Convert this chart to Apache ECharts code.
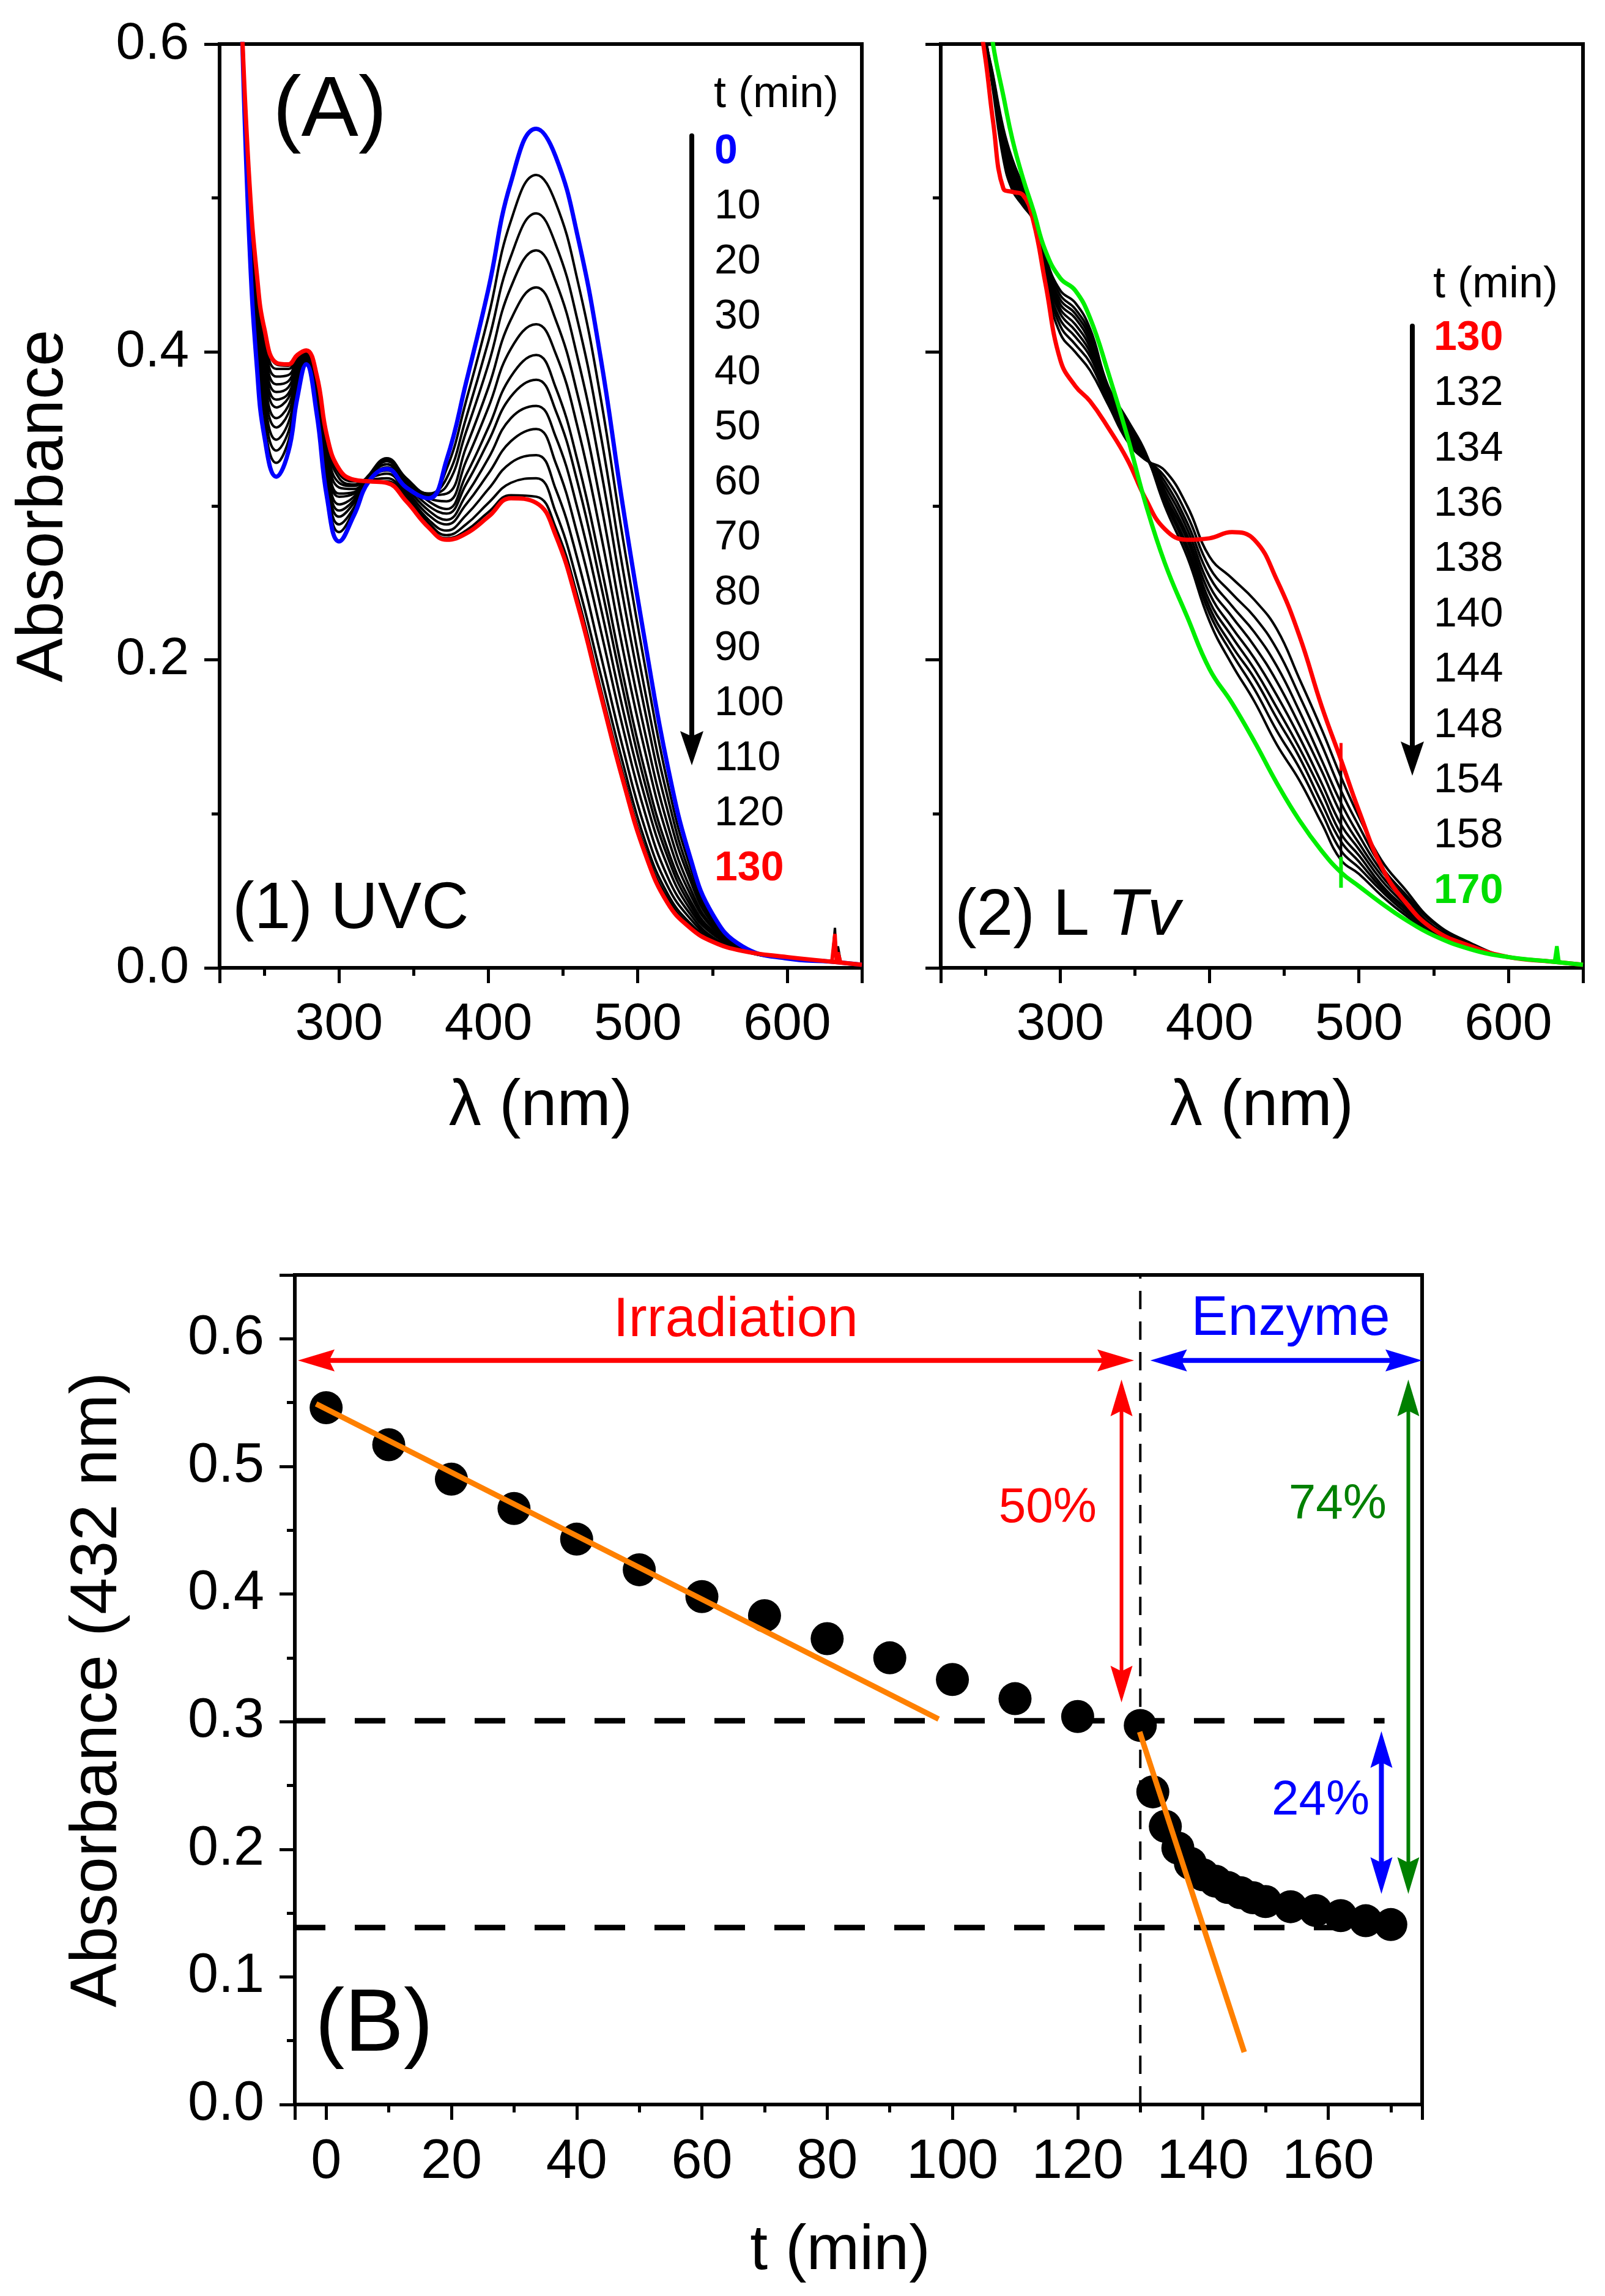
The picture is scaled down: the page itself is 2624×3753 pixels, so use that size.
<!DOCTYPE html>
<html>
<head>
<meta charset="utf-8">
<script src="https://cdn.jsdelivr.net/npm/echarts/dist/echarts.min.js"></script>
<style>
html, body { margin: 0; padding: 0; background: #fff; }
#main { width: 2624px; height: 3753px; }
</style>
</head>
<body>
<div id="main"></div>
<script>
var FONT = '"Liberation Sans", Arial, Helvetica, sans-serif'

// ---- panel (A)(1): spectra under UVC irradiation ----
var uvcWave = [235, 240, 245, 250, 258, 266, 272, 278, 285, 292, 300, 310, 320, 332, 345, 360, 372, 385, 400, 415, 432, 445, 460, 475, 490, 505, 520, 535, 550, 570, 600, 630, 650]
var uvcTimes = [0, 10, 20, 30, 40, 50, 60, 70, 80, 90, 100, 110, 120, 130]
var uvc0 = [0.61, 0.47, 0.39, 0.345, 0.319, 0.335, 0.37, 0.392, 0.36, 0.305, 0.277, 0.294, 0.316, 0.324, 0.312, 0.305, 0.33, 0.38, 0.441, 0.51, 0.545, 0.527, 0.474, 0.397, 0.30, 0.211, 0.131, 0.072, 0.035, 0.014, 0.006, 0.004, 0.002]
var uvc10 = [0.61, 0.475, 0.397, 0.353, 0.328, 0.342, 0.373, 0.393, 0.363, 0.310, 0.283, 0.297, 0.318, 0.327, 0.315, 0.307, 0.324, 0.368, 0.423, 0.485, 0.515, 0.497, 0.445, 0.371, 0.279, 0.195, 0.120, 0.066, 0.033, 0.014, 0.006, 0.004, 0.002]
var uvc20 = [0.61, 0.479, 0.404, 0.361, 0.336, 0.348, 0.376, 0.394, 0.366, 0.314, 0.288, 0.299, 0.319, 0.329, 0.317, 0.308, 0.318, 0.357, 0.407, 0.462, 0.490, 0.470, 0.419, 0.347, 0.259, 0.179, 0.111, 0.061, 0.031, 0.013, 0.006, 0.004, 0.002]
var uvc30 = [0.61, 0.483, 0.410, 0.368, 0.343, 0.354, 0.379, 0.395, 0.368, 0.318, 0.293, 0.302, 0.319, 0.330, 0.318, 0.308, 0.313, 0.348, 0.392, 0.442, 0.466, 0.446, 0.395, 0.325, 0.241, 0.166, 0.102, 0.057, 0.029, 0.013, 0.006, 0.004, 0.002]
var uvc40 = [0.61, 0.487, 0.416, 0.375, 0.351, 0.360, 0.382, 0.396, 0.371, 0.322, 0.297, 0.304, 0.320, 0.331, 0.318, 0.307, 0.308, 0.338, 0.377, 0.421, 0.442, 0.421, 0.371, 0.303, 0.223, 0.152, 0.093, 0.052, 0.027, 0.013, 0.006, 0.004, 0.002]
var uvc50 = [0.61, 0.491, 0.421, 0.381, 0.357, 0.365, 0.385, 0.397, 0.373, 0.326, 0.301, 0.306, 0.320, 0.330, 0.317, 0.305, 0.303, 0.329, 0.364, 0.402, 0.418, 0.399, 0.350, 0.283, 0.207, 0.140, 0.085, 0.048, 0.026, 0.012, 0.006, 0.004, 0.002]
var uvc60 = [0.61, 0.494, 0.427, 0.388, 0.364, 0.370, 0.387, 0.397, 0.375, 0.329, 0.306, 0.308, 0.320, 0.329, 0.316, 0.303, 0.298, 0.320, 0.351, 0.384, 0.398, 0.377, 0.328, 0.263, 0.191, 0.127, 0.077, 0.044, 0.024, 0.012, 0.006, 0.004, 0.002]
var uvc70 = [0.61, 0.497, 0.430, 0.392, 0.369, 0.373, 0.389, 0.398, 0.377, 0.332, 0.308, 0.309, 0.320, 0.327, 0.314, 0.300, 0.295, 0.314, 0.342, 0.371, 0.382, 0.362, 0.314, 0.250, 0.181, 0.119, 0.072, 0.041, 0.023, 0.012, 0.006, 0.004, 0.002]
var uvc80 = [0.61, 0.500, 0.434, 0.397, 0.374, 0.377, 0.391, 0.399, 0.379, 0.335, 0.312, 0.311, 0.319, 0.325, 0.312, 0.297, 0.291, 0.307, 0.331, 0.357, 0.365, 0.345, 0.297, 0.235, 0.168, 0.110, 0.066, 0.038, 0.022, 0.012, 0.006, 0.004, 0.002]
var uvc90 = [0.61, 0.502, 0.439, 0.402, 0.379, 0.381, 0.393, 0.399, 0.380, 0.337, 0.315, 0.313, 0.319, 0.323, 0.310, 0.294, 0.288, 0.301, 0.321, 0.342, 0.350, 0.328, 0.280, 0.220, 0.156, 0.100, 0.059, 0.035, 0.020, 0.011, 0.006, 0.004, 0.002]
var uvc100 = [0.61, 0.505, 0.443, 0.407, 0.384, 0.385, 0.395, 0.400, 0.382, 0.340, 0.318, 0.314, 0.318, 0.321, 0.308, 0.291, 0.284, 0.294, 0.311, 0.328, 0.333, 0.311, 0.264, 0.204, 0.143, 0.090, 0.053, 0.032, 0.019, 0.011, 0.006, 0.004, 0.002]
var uvc110 = [0.61, 0.507, 0.446, 0.411, 0.389, 0.389, 0.396, 0.400, 0.384, 0.343, 0.321, 0.316, 0.317, 0.318, 0.306, 0.289, 0.281, 0.288, 0.302, 0.315, 0.318, 0.296, 0.249, 0.191, 0.133, 0.082, 0.048, 0.029, 0.018, 0.011, 0.006, 0.004, 0.002]
var uvc120 = [0.61, 0.509, 0.449, 0.414, 0.392, 0.391, 0.397, 0.401, 0.385, 0.344, 0.323, 0.317, 0.316, 0.316, 0.304, 0.287, 0.279, 0.284, 0.296, 0.307, 0.306, 0.286, 0.240, 0.182, 0.126, 0.077, 0.045, 0.027, 0.017, 0.011, 0.006, 0.004, 0.002]
var uvc130 = [0.61, 0.51, 0.45, 0.415, 0.393, 0.392, 0.398, 0.401, 0.385, 0.345, 0.324, 0.317, 0.316, 0.315, 0.303, 0.286, 0.278, 0.282, 0.293, 0.305, 0.302, 0.281, 0.235, 0.178, 0.122, 0.074, 0.042, 0.026, 0.017, 0.011, 0.007, 0.004, 0.002]
var uvcSpectra = [uvc0, uvc10, uvc20, uvc30, uvc40, uvc50, uvc60, uvc70, uvc80, uvc90, uvc100, uvc110, uvc120, uvc130]
var uvcSpikeWave = [630, 632, 633, 634, 636]
var uvcSpikeBlack = [0.004, 0.026, 0.006, 0.014, 0.003]
var uvcSpikeRed = [0.004, 0.022, 0.004, 0.010, 0.003]

// ---- panel (A)(2): spectra during the laccase (LTv) step ----
var ltvWave = [245, 250, 255, 262, 268, 275, 282, 290, 300, 310, 320, 332, 345, 357, 370, 385, 400, 415, 430, 445, 460, 475, 488, 500, 515, 530, 550, 575, 600, 630, 650]
var ltvTimes = [130, 132, 134, 136, 138, 140, 144, 148, 154, 158, 170]
var ltv130 = [0.62, 0.59, 0.55, 0.506, 0.504, 0.502, 0.485, 0.445, 0.395, 0.378, 0.368, 0.351, 0.33, 0.305, 0.285, 0.278, 0.279, 0.283, 0.278, 0.252, 0.216, 0.17, 0.135, 0.102, 0.066, 0.044, 0.025, 0.014, 0.007, 0.004, 0.002]
var ltv132 = [0.66, 0.605, 0.570, 0.525, 0.505, 0.495, 0.485, 0.445, 0.412, 0.400, 0.388, 0.366, 0.342, 0.330, 0.323, 0.300, 0.267, 0.253, 0.239, 0.220, 0.188, 0.155, 0.124, 0.098, 0.070, 0.052, 0.030, 0.016, 0.007, 0.004, 0.002]
var ltv134 = [0.66, 0.605, 0.572, 0.528, 0.508, 0.497, 0.486, 0.448, 0.417, 0.405, 0.393, 0.368, 0.344, 0.331, 0.319, 0.294, 0.260, 0.243, 0.228, 0.207, 0.177, 0.145, 0.115, 0.092, 0.066, 0.049, 0.029, 0.015, 0.007, 0.004, 0.002]
var ltv136 = [0.66, 0.605, 0.573, 0.531, 0.511, 0.499, 0.487, 0.450, 0.421, 0.410, 0.397, 0.370, 0.346, 0.332, 0.316, 0.289, 0.254, 0.235, 0.218, 0.196, 0.167, 0.135, 0.107, 0.086, 0.063, 0.047, 0.027, 0.015, 0.007, 0.004, 0.002]
var ltv138 = [0.66, 0.605, 0.575, 0.534, 0.514, 0.501, 0.487, 0.453, 0.425, 0.414, 0.400, 0.371, 0.348, 0.332, 0.313, 0.285, 0.248, 0.228, 0.209, 0.186, 0.158, 0.128, 0.100, 0.081, 0.060, 0.044, 0.026, 0.015, 0.007, 0.004, 0.002]
var ltv140 = [0.66, 0.605, 0.576, 0.536, 0.516, 0.502, 0.488, 0.455, 0.428, 0.418, 0.403, 0.373, 0.350, 0.333, 0.310, 0.281, 0.243, 0.221, 0.201, 0.177, 0.150, 0.120, 0.093, 0.077, 0.057, 0.042, 0.025, 0.014, 0.007, 0.004, 0.002]
var ltv144 = [0.66, 0.605, 0.577, 0.539, 0.519, 0.504, 0.488, 0.457, 0.431, 0.422, 0.406, 0.374, 0.352, 0.333, 0.307, 0.278, 0.238, 0.215, 0.194, 0.169, 0.143, 0.114, 0.087, 0.073, 0.054, 0.040, 0.025, 0.014, 0.007, 0.004, 0.002]
var ltv148 = [0.66, 0.605, 0.578, 0.541, 0.521, 0.505, 0.489, 0.458, 0.434, 0.425, 0.409, 0.375, 0.353, 0.334, 0.305, 0.274, 0.234, 0.209, 0.188, 0.162, 0.137, 0.107, 0.082, 0.069, 0.052, 0.039, 0.024, 0.014, 0.007, 0.004, 0.002]
var ltv154 = [0.66, 0.605, 0.579, 0.543, 0.523, 0.506, 0.489, 0.460, 0.437, 0.428, 0.412, 0.377, 0.354, 0.334, 0.303, 0.271, 0.230, 0.204, 0.181, 0.154, 0.130, 0.101, 0.076, 0.065, 0.050, 0.037, 0.023, 0.013, 0.007, 0.004, 0.002]
var ltv158 = [0.66, 0.605, 0.580, 0.545, 0.525, 0.508, 0.490, 0.462, 0.440, 0.432, 0.415, 0.378, 0.356, 0.335, 0.300, 0.267, 0.225, 0.197, 0.173, 0.145, 0.122, 0.094, 0.070, 0.061, 0.047, 0.035, 0.022, 0.013, 0.007, 0.004, 0.002]
var ltv170 = [0.68, 0.64, 0.60, 0.566, 0.538, 0.513, 0.492, 0.466, 0.448, 0.44, 0.422, 0.387, 0.345, 0.302, 0.263, 0.228, 0.194, 0.172, 0.147, 0.12, 0.096, 0.076, 0.062, 0.053, 0.042, 0.032, 0.021, 0.012, 0.007, 0.004, 0.002]
var ltvSpectra = [ltv130, ltv132, ltv134, ltv136, ltv138, ltv140, ltv144, ltv148, ltv154, ltv158, ltv170]
var ltvStepBlack = [[488, 0.132], [488, 0.072]]
var ltvStepRed = [[488, 0.146], [488, 0.128]]
var ltvStepGreen = [[488, 0.072], [488, 0.052]]
var ltvSpikeGreen = [[631, 0.004], [632.5, 0.014], [634, 0.003]]

// ---- panel (B): absorbance at 432 nm vs time ----
var kinT = [0, 10, 20, 30, 40, 50, 60, 70, 80, 90, 100, 110, 120, 130, 132, 134, 136, 138, 140, 142, 144, 146, 148, 150, 154, 158, 162, 166, 170]
var kinA = [0.546, 0.517, 0.490, 0.467, 0.443, 0.419, 0.398, 0.383, 0.365, 0.350, 0.333, 0.318, 0.304, 0.297, 0.245, 0.218, 0.201, 0.189, 0.180, 0.175, 0.170, 0.166, 0.162, 0.159, 0.155, 0.152, 0.148, 0.144, 0.141]
var fitIrrT = [-1.6, 97.8]
var fitIrrA = [0.549, 0.302]
var fitEnzT = [129.9, 146.6]
var fitEnzA = [0.292, 0.041]
var levelHigh = 0.3007
var levelLow = 0.1386
var switchT = 130

function pairs(xs, ys) {
  return xs.map(function (x, i) { return [x, ys[i]] })
}

function spectrum(idx, wave, vals, color, width, z) {
  return {
    type: 'line', xAxisIndex: idx, yAxisIndex: idx,
    data: pairs(wave, vals),
    symbol: 'none', showSymbol: false,
    smooth: 0.45,
    lineStyle: { color: color, width: width, join: 'round' },
    z: z, silent: true
  }
}

function plainLine(idx, data, color, width, type, z) {
  return {
    type: 'line', xAxisIndex: idx, yAxisIndex: idx, data: data,
    symbol: 'none', showSymbol: false,
    lineStyle: { color: color, width: width, type: type || 'solid' },
    z: z, silent: true
  }
}

var series = []
uvcSpectra.forEach(function (row, i) {
  var first = i === 0, last = i === uvcSpectra.length - 1
  var c = first ? '#0000ff' : (last ? '#ff0000' : '#000000')
  series.push(spectrum(0, uvcWave, row, c, first || last ? 7 : 4, first ? 3 : (last ? 4 : 2)))
})
series.push(plainLine(0, pairs(uvcSpikeWave, uvcSpikeBlack), '#000', 4, null, 2))
series.push(plainLine(0, pairs(uvcSpikeWave, uvcSpikeRed), '#ff0000', 6, null, 4))

ltvSpectra.forEach(function (row, i) {
  var first = i === 0, last = i === ltvSpectra.length - 1
  var c = first ? '#ff0000' : (last ? '#00ee00' : '#000000')
  series.push(spectrum(1, ltvWave, row, c, first || last ? 7 : 4, first ? 3 : (last ? 4 : 2)))
})
series.push(plainLine(1, ltvStepBlack, '#000', 4, null, 2))
series.push(plainLine(1, ltvStepRed, '#ff0000', 5, null, 3))
series.push(plainLine(1, ltvStepGreen, '#00ee00', 6, null, 4))
series.push(plainLine(1, ltvSpikeGreen, '#00ee00', 6, null, 4))

series.push(plainLine(2, [[-5, levelHigh], [169, levelHigh]], '#000', 9, [50, 48], 2))
series.push(plainLine(2, [[-5, levelLow], [169, levelLow]], '#000', 9, [50, 48], 2))
series.push(plainLine(2, [[switchT, 0], [switchT, 0.65]], '#000', 4, [30, 20], 2))
series.push({
  type: 'scatter', xAxisIndex: 2, yAxisIndex: 2,
  data: pairs(kinT, kinA), symbol: 'circle', symbolSize: 54,
  itemStyle: { color: '#000', opacity: 1 }, z: 3, silent: true
})
series.push(plainLine(2, pairs(fitIrrT, fitIrrA), '#ff8000', 9, null, 4))
series.push(plainLine(2, pairs(fitEnzT, fitEnzA), '#ff8000', 9, null, 4))

var tickCommon = {
  axisLine: { show: true, onZero: false, lineStyle: { color: '#000', width: 6 } },
  axisTick: { show: true, inside: false, length: 25, lineStyle: { color: '#000', width: 5 } },
  minorTick: { show: true, splitNumber: 2, length: 13, lineStyle: { color: '#000', width: 5 } },
  splitLine: { show: false },
  minorSplitLine: { show: false }
}

function xAxisFor(idx, min, max, split, step, name, gap, fontSize) {
  return Object.assign({
    type: 'value', gridIndex: idx, min: min, max: max, splitNumber: split,
    name: name, nameLocation: 'middle', nameGap: gap, nameMoveOverlap: false,
    nameTextStyle: { color: '#000', fontSize: 106, fontFamily: FONT },
    axisLabel: {
      color: '#000', fontSize: fontSize, fontFamily: FONT, margin: 50,
      showMinLabel: false, showMaxLabel: false,
      formatter: function (v) { return Math.abs(v % step) < 1e-6 ? String(Math.round(v)) : '' }
    }
  }, tickCommon)
}

function yAxisFor(idx, max, interval, name, gap, fontSize, showLabel) {
  return Object.assign({
    type: 'value', gridIndex: idx, min: 0, max: max, interval: interval,
    name: name, nameLocation: 'middle', nameGap: gap, nameMoveOverlap: false,
    nameTextStyle: { color: '#000', fontSize: 108, fontFamily: FONT },
    axisLabel: {
      show: showLabel, color: '#000', fontSize: fontSize, fontFamily: FONT, margin: 50,
      showMaxLabel: max === 0.6,
      formatter: function (v) { return Math.abs(v * 10 - Math.round(v * 10)) < 1e-6 ? v.toFixed(1) : '' }
    }
  }, tickCommon)
}

var xAxes = [
  xAxisFor(0, 220, 650, 4, 100, 'λ (nm)', 175, 86),
  xAxisFor(1, 220, 650, 4, 100, 'λ (nm)', 175, 86),
  xAxisFor(2, -5, 175, 9, 20, 't (min)', 188, 90)
]
xAxes[2].nameTextStyle.fontSize = 104
xAxes[2].nameTextStyle.padding = [0, 60, 0, 0]
var yAxes = [
  yAxisFor(0, 0.6, 0.2, 'Absorbance', 233, 86, true),
  yAxisFor(1, 0.6, 0.2, '', 0, 86, false),
  yAxisFor(2, 0.65, 0.1, 'Absorbance (432 nm)', 268, 90, true)
]

function gridBox(left, top, width, height) {
  return {
    left: left, top: top, width: width, height: height,
    show: true, borderColor: '#000', borderWidth: 6, backgroundColor: 'transparent',
    containLabel: false, outerBoundsMode: 'none'
  }
}

var option = {
  animation: false,
  backgroundColor: '#fff',
  grid: [
    gridBox(359, 72, 1050, 1510),
    gridBox(1538, 72, 1050, 1510),
    gridBox(482, 2084, 1843, 1356)
  ],
  xAxis: xAxes,
  yAxis: yAxes,
  series: series
}

var chart = echarts.init(document.getElementById('main'))
chart.setOption(option)

// ---- text and arrows ----
function txt(x, y, text, size, color, opts) {
  opts = opts || {}
  return {
    type: 'text', x: x, y: y, z: 50, silent: true,
    style: {
      text: text, fill: color || '#000', fontSize: size, fontFamily: FONT,
      fontWeight: opts.bold ? 'bold' : 'normal',
      align: opts.align || 'left', verticalAlign: 'middle',
      rich: opts.rich
    }
  }
}

function arrow(p, q, color, lw, both, len, hw) {
  len = len || 60; hw = hw || 18
  var dx = q[0] - p[0], dy = q[1] - p[1]
  var d = Math.sqrt(dx * dx + dy * dy)
  var ux = dx / d, uy = dy / d
  var out = []
  function head(tip, sx, sy) {
    var bx = tip[0] - sx * len, by = tip[1] - sy * len
    var nx = -sy, ny = sx
    return {
      type: 'polygon', z: 40, silent: true,
      shape: { points: [tip, [bx + nx * hw, by + ny * hw], [tip[0] - sx * len * 0.85, tip[1] - sy * len * 0.85], [bx - nx * hw, by - ny * hw]] },
      style: { fill: color }
    }
  }
  var a = both ? [p[0] + ux * len * 0.8, p[1] + uy * len * 0.8] : p
  var b = [q[0] - ux * len * 0.8, q[1] - uy * len * 0.8]
  out.push({ type: 'line', z: 39, silent: true, shape: { x1: a[0], y1: a[1], x2: b[0], y2: b[1] }, style: { stroke: color, lineWidth: lw, lineCap: 'round' } })
  out.push(head(q, ux, uy))
  if (both) out.push(head(p, -ux, -uy))
  return out
}

function px(t, a) { return chart.convertToPixel({ gridIndex: 2 }, [t, a]) }

var g = []
g.push(txt(446, 183, '(A)', 140))
g.push(txt(380, 1487, '(1) UVC', 107))
g.push(txt(1561, 1498, '(2) L {i|Tv}', 107, '#000', { rich: { i: { fontStyle: 'italic', fontSize: 107, fontFamily: FONT, fill: '#000' } } }))
g.push(txt(515, 3312, '(B)', 145))

g.push(txt(1167, 155, 't (min)', 72))
uvcTimes.forEach(function (t, i) {
  var first = i === 0, last = i === uvcTimes.length - 1
  g.push(txt(1168, 248 + i * 90.2, String(t), 68, first ? '#0000ff' : (last ? '#ff0000' : '#000'), { bold: first || last }))
})
g = g.concat(arrow([1131, 222], [1131, 1251], '#000', 8, false, 56, 19))

g.push(txt(2343, 466, 't (min)', 72))
ltvTimes.forEach(function (t, i) {
  var first = i === 0, last = i === ltvTimes.length - 1
  g.push(txt(2344, 553 + i * 90.4, String(t), 68, first ? '#ff0000' : (last ? '#00dd00' : '#000'), { bold: first || last }))
})
g = g.concat(arrow([2309, 533], [2309, 1268], '#000', 8, false, 56, 19))

// panel B annotations, placed through the axis scales
var notes = [
  { t: 65.4, a: 0.614, text: 'Irradiation', color: '#ff0000', size: 90 },
  { t: 154, a: 0.615, text: 'Enzyme', color: '#0000ff', size: 90 },
  { t: 115.2, a: 0.467, text: '50%', color: '#ff0000', size: 80 },
  { t: 161.5, a: 0.47, text: '74%', color: '#008000', size: 80 },
  { t: 158.8, a: 0.238, text: '24%', color: '#0000ff', size: 80 }
]
notes.forEach(function (n) {
  var p = px(n.t, n.a)
  g.push(txt(p[0], p[1], n.text, n.size, n.color, { align: 'center' }))
})
var spans = [
  { from: [-4.5, 0.583], to: [129, 0.583], color: '#ff0000', w: 8 },
  { from: [131.6, 0.583], to: [175, 0.583], color: '#0000ff', w: 8 },
  { from: [127, 0.568], to: [127, 0.315], color: '#ff0000', w: 6 },
  { from: [172.8, 0.568], to: [172.8, 0.165], color: '#008000', w: 6 },
  { from: [168.5, 0.2925], to: [168.5, 0.165], color: '#0000ff', w: 8 }
]
spans.forEach(function (s) {
  g = g.concat(arrow(px(s.from[0], s.from[1]), px(s.to[0], s.to[1]), s.color, s.w, true, 60, 18))
})

chart.setOption({ graphic: { elements: g } })

window.onresize = function () {
  chart.resize()
}
</script>
</body>
</html>
